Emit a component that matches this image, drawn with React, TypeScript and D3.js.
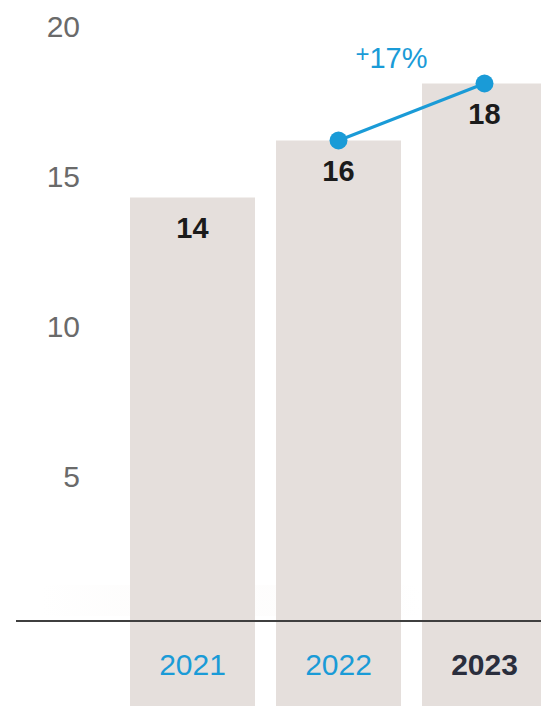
import React from "react";
import * as d3 from "d3";

const years = ["2021", "2022", "2023"];
const values = [14.3, 16.2, 18.1];
const valueLabels = ["14", "16", "18"];
const yTicks = [5, 10, 15, 20];
const growthFrom = "2022";
const growthTo = "2023";
const growthLabel = "17%";
const highlightYear = "2023";

const W = 541;
const H = 706;
const BLUE = "#1a9bd7";
const BAR = "#e5dfdc";

export default function App() {
  const x = d3
    .scaleBand<string>()
    .domain(years)
    .range([109, 568])
    .paddingInner(21 / 146)
    .paddingOuter(21 / 146);
  const y = d3.scaleLinear().domain([0, 20]).range([626.5, 26.5]);
  const baseY = y(0) - 5.5;
  const cx = (yr: string) => (x(yr) as number) + x.bandwidth() / 2;
  const valOf = (yr: string) => values[years.indexOf(yr)];

  const p1: [number, number] = [cx(growthFrom), y(valOf(growthFrom))];
  const p2: [number, number] = [cx(growthTo), y(valOf(growthTo))];
  const line = d3.line()([p1, p2]) as string;
  const midX = (p1[0] + p2[0]) / 2;

  return (
    <svg
      width={W}
      height={H}
      style={{ position: "absolute", left: 0, top: 0, background: "#fff" }}
    >
      <defs>
        <linearGradient id="fade" x1="0" x2="1" y1="0" y2="0">
          <stop offset="0" stopColor="#f3eeeb" stopOpacity="0" />
          <stop offset="0.2" stopColor="#f3eeeb" stopOpacity="0.12" />
          <stop offset="0.8" stopColor="#f3eeeb" stopOpacity="0.12" />
          <stop offset="1" stopColor="#f3eeeb" stopOpacity="0" />
        </linearGradient>
      </defs>
      <rect x={40} y={baseY - 36} width={380} height={31} fill="url(#fade)" />
      {years.map((yr, i) => (
        <rect
          key={yr}
          x={x(yr)}
          y={y(values[i])}
          width={x.bandwidth()}
          height={H - y(values[i])}
          fill={BAR}
        />
      ))}
      <line x1={16} x2={W} y1={baseY} y2={baseY} stroke="#3f3f3f" strokeWidth={2} />
      {yTicks.map((t) => (
        <text
          key={t}
          x={80}
          y={y(t)}
          dy="0.36em"
          textAnchor="end"
          fontFamily="'Liberation Sans', Arial, sans-serif"
          fontWeight={400}
          fontSize={30}
          fill="#6a6a6a"
        >
          {t}
        </text>
      ))}
      {years.map((yr, i) => (
        <text
          key={"v" + yr}
          x={cx(yr)}
          y={y(values[i]) + 40}
          textAnchor="middle"
          fontFamily="'Liberation Sans', Arial, sans-serif"
          fontWeight={700}
          fontSize={29}
          fill="#1b1b1b"
        >
          {valueLabels[i]}
        </text>
      ))}
      {years.map((yr) => (
        <text
          key={"y" + yr}
          x={cx(yr)}
          y={675}
          textAnchor="middle"
          fontFamily="'Liberation Sans', Arial, sans-serif"
          fontWeight={yr === highlightYear ? 700 : 400}
          fontSize={30}
          fill={yr === highlightYear ? "#2a2e3d" : BLUE}
        >
          {yr}
        </text>
      ))}
      <path d={line} stroke={BLUE} strokeWidth={3} fill="none" />
      {[p1, p2].map((p, i) => (
        <circle key={i} cx={p[0]} cy={p[1]} r={9} fill={BLUE} />
      ))}
      <text
        x={midX - 20}
        y={p2[1] - 16}
        textAnchor="middle"
        fontFamily="'Liberation Sans', Arial, sans-serif"
        fontWeight={400}
        fill={BLUE}
      >
        <tspan fontSize={24} dy="-6">+</tspan>
        <tspan fontSize={29} dy="6">{growthLabel}</tspan>
      </text>
    </svg>
  );
}
